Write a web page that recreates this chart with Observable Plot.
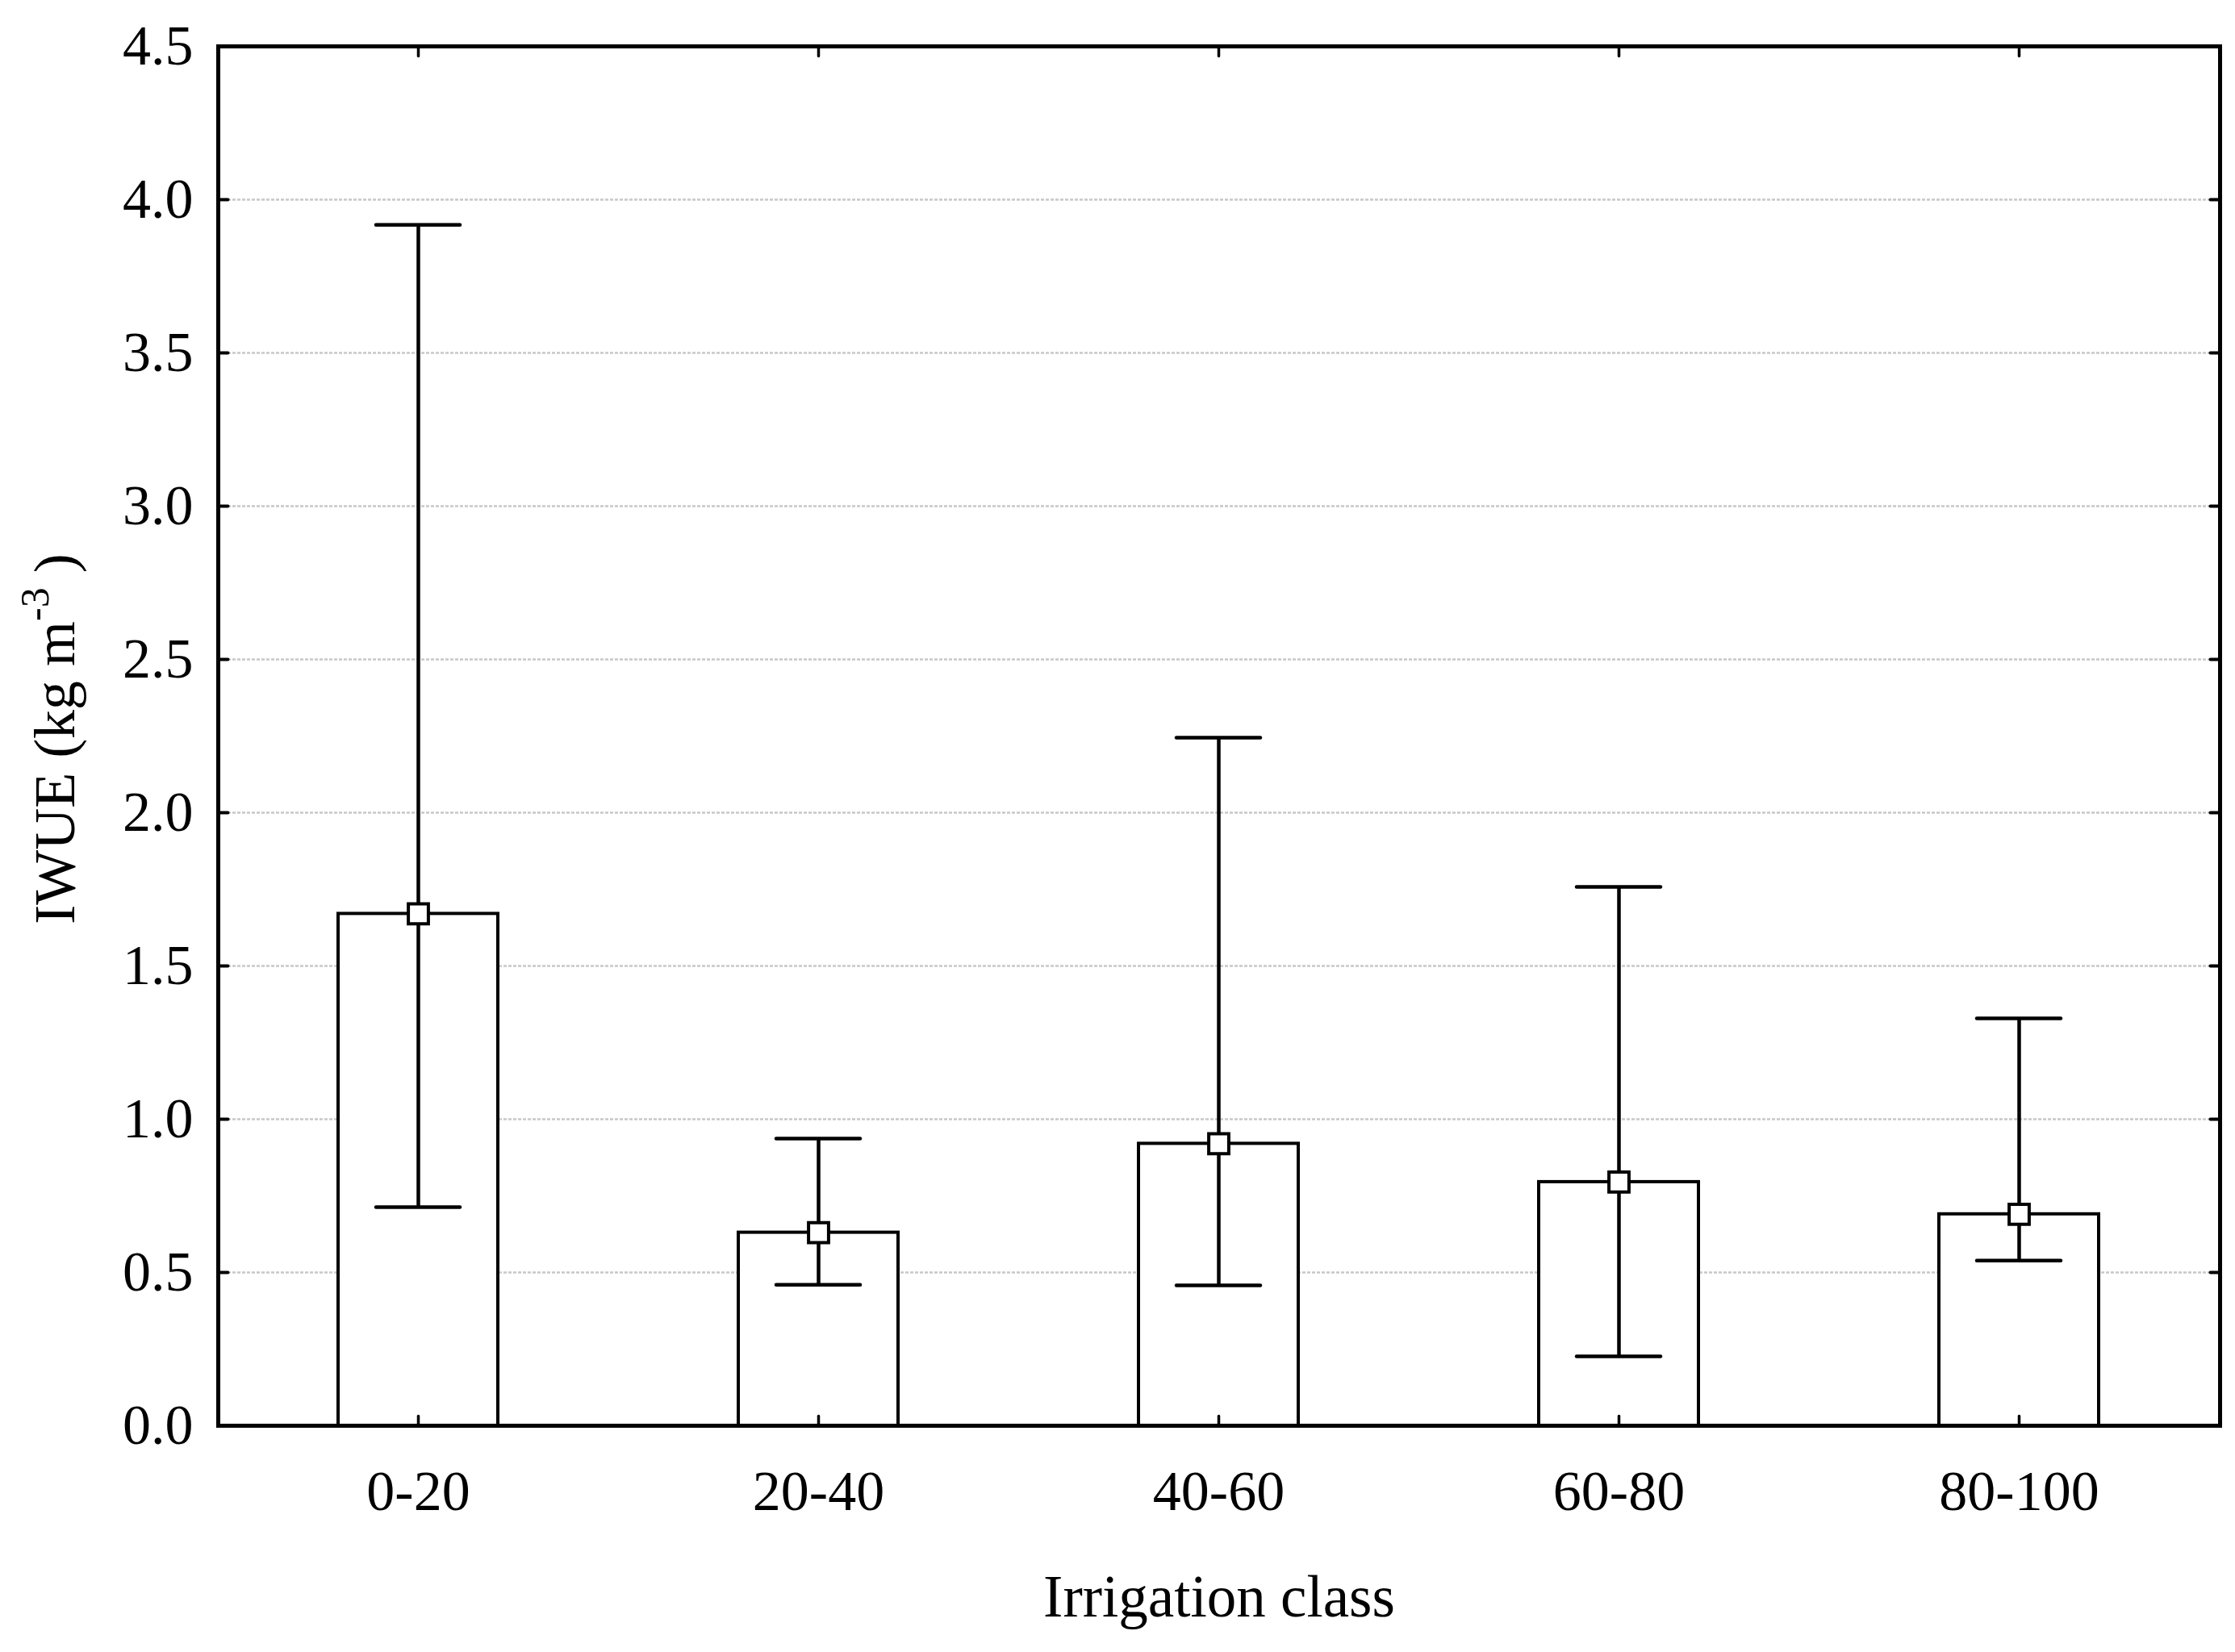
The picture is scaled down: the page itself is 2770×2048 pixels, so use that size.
<!DOCTYPE html>
<html>
<head>
<meta charset="utf-8">
<script src="https://cdn.jsdelivr.net/npm/d3@7"></script>
<script src="https://cdn.jsdelivr.net/npm/@observablehq/plot@0.6"></script>
<style>
  html, body { margin: 0; padding: 0; background: #ffffff; }
  #chart svg { display: block; }
</style>
</head>
<body>
<div id="chart"></div>
<script>
// ---- data ----
const categories = ["0-20", "20-40", "40-60", "60-80", "80-100"];
const means = [1.67, 0.63, 0.92, 0.795, 0.69];
const lower = [0.713, 0.46, 0.458, 0.226, 0.539];
const upper = [3.918, 0.937, 2.245, 1.758, 1.329];
const yTicks = [0, 0.5, 1.0, 1.5, 2.0, 2.5, 3.0, 3.5, 4.0, 4.5];
const xLabel = "Irrigation class";
const yLabelMain = "IWUE (kg m";
const yLabelSup = "-3";
const yLabelEnd = " )";

const rows = categories.map((c, i) => ({cat: c, mean: means[i], lo: lower[i], hi: upper[i]}));
const innerTicks = yTicks.filter(t => t > 0 && t < 4.5);

const FONT = "'Liberation Serif', 'DejaVu Serif', serif";
const tickShape = {draw(ctx, l) { ctx.moveTo(0, 0); ctx.lineTo(0, -l); }};

const plot = Plot.plot({
  width: 2770,
  height: 2048,
  marginLeft: 270,
  marginRight: 19,
  marginTop: 57,
  marginBottom: 281,
  style: {fontFamily: FONT, fontSize: "70px", background: "white", color: "black"},
  x: {domain: categories, paddingInner: 0.6, paddingOuter: 0.3},
  y: {domain: [0, 4.5]},
  marks: [
    Plot.ruleY(innerTicks, {y: d => d, stroke: "#c8c8c8", strokeWidth: 2.4, strokeDasharray: "4,2"}),
    Plot.barY(rows, {x: "cat", y: "mean", fill: "white", stroke: "black", strokeWidth: 4}),
    Plot.ruleX(rows, {x: "cat", y1: "lo", y2: "hi", stroke: "black", strokeWidth: 4.5}),
    Plot.tickY(rows, {x: "cat", y: "hi", stroke: "black", strokeWidth: 4.5, insetLeft: 47, insetRight: 47, strokeLinecap: "round"}),
    Plot.tickY(rows, {x: "cat", y: "lo", stroke: "black", strokeWidth: 4.5, insetLeft: 47, insetRight: 47, strokeLinecap: "round"}),
    Plot.dot(rows, {x: "cat", y: "mean", symbol: "square", r: 14, fill: "white", stroke: "black", strokeWidth: 4}),
    // inward ticks on all four sides
    Plot.vector(innerTicks, {y: d => d, frameAnchor: "left", rotate: 90, length: 12, anchor: "start", shape: tickShape, stroke: "black", strokeWidth: 4}),
    Plot.vector(innerTicks, {y: d => d, frameAnchor: "right", rotate: -90, length: 12, anchor: "start", shape: tickShape, stroke: "black", strokeWidth: 4}),
    Plot.vector(categories, {x: d => d, frameAnchor: "bottom", rotate: 0, length: 12, anchor: "start", shape: tickShape, stroke: "black", strokeWidth: 3.5}),
    Plot.vector(categories, {x: d => d, frameAnchor: "top", rotate: 180, length: 12, anchor: "start", shape: tickShape, stroke: "black", strokeWidth: 3.5}),
    Plot.frame({stroke: "black", strokeWidth: 5}),
    Plot.axisY(yTicks, {tickSize: 0, tickPadding: 31, tickFormat: d => d.toFixed(1), label: null, fontSize: 70}),
    Plot.axisX({tickSize: 0, tickPadding: 55, label: null, fontSize: 70}),
    Plot.text([xLabel], {text: d => d, frameAnchor: "bottom", dy: 213, lineAnchor: "middle", fontSize: 73, letterSpacing: 3})
  ]
});

document.getElementById("chart").appendChild(plot);

// rotated y-axis title with superscript
const yl = d3.select(plot).append("text")
  .attr("transform", "translate(92,916) rotate(-90)")
  .attr("text-anchor", "middle")
  .attr("font-family", FONT)
  .attr("font-size", 72)
  .attr("fill", "black");
yl.append("tspan").text(yLabelMain);
yl.append("tspan").attr("font-size", 50).attr("dy", -32).text(yLabelSup);
yl.append("tspan").attr("dy", 32).text(yLabelEnd);
</script>
</body>
</html>
